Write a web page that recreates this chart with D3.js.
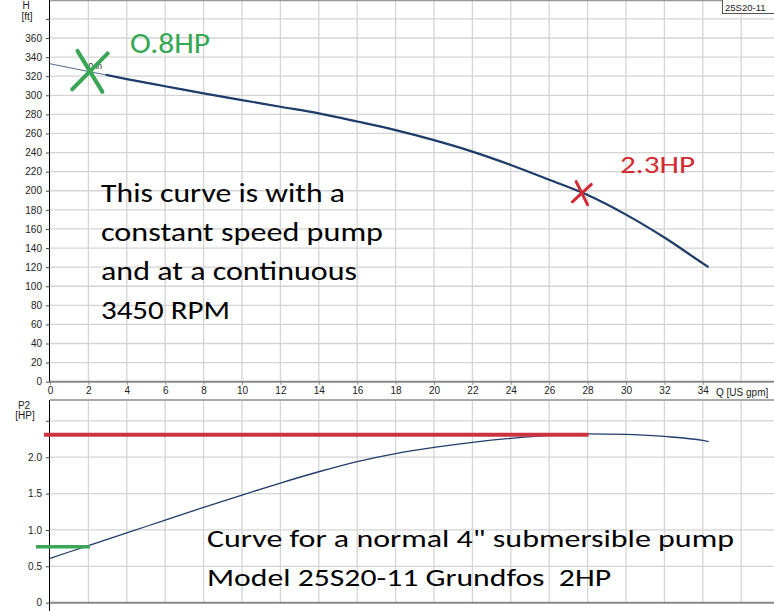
<!DOCTYPE html>
<html><head><meta charset="utf-8">
<script src="https://cdn.jsdelivr.net/npm/d3@7"></script>
<style>body{margin:0;background:#fff}svg{display:block}</style>
</head><body>
<script>
// ---- data ----
const flowQ  = [0,2,4,6,8,10,12,14,16,18,20,22,24,26,28,30,32,34,34.3];
const headH  = [333,325,317,309.5,302,295,288,281,272.5,263.5,253,241,227,211.5,195.5,175,151,124,120];
const powerQ = [0,2,4,6,8,10,12,14,16,18,20,22,24,26,28,30,32,34,34.3];
const powerP2 = [0.61,0.785,0.96,1.135,1.31,1.48,1.645,1.80,1.94,2.05,2.135,2.205,2.26,2.30,2.32,2.315,2.285,2.23,2.215];
const qTickValues = [0,2,4,6,8,10,12,14,16,18,20,22,24,26,28,30,32,34];
const qTickLabels = ["0","2","4","6","8","10","12","14","16","18","20","22","24","26","28","30","32","34"];
const hTickValues = [0,20,40,60,80,100,120,140,160,180,200,220,240,260,280,300,320,340,360];
const hTickLabels = ["0","20","40","60","80","100","120","140","160","180","200","220","240","260","280","300","320","340","360"];
const p2TickValues = [0,0.5,1.0,1.5,2.0];
const p2TickLabels = ["0","0.5","1.0","1.5","2.0"];
const lowPoint  = {q:2.08, h:325, p2:0.77, label:"O.8HP"};
const highPoint = {q:27.7, h:197.5, p2:2.31, label:"2.3HP"};
const notesTop = ["This curve is with a","constant speed pump","and at a continuous","3450 RPM"];
const notesBottom = ["Curve for a normal 4\" submersible pump","Model 25S20-11 Grundfos  2HP"];
const modelName = "25S20-11";

// ---- layout ----
const W = 774, H = 611;
const svg = d3.select("body").append("svg").attr("width", W).attr("height", H);
const x = d3.scaleLinear().domain([0, 36]).range([50, 741.2]);
const yH = d3.scaleLinear().domain([0, 360]).range([381.7, 38]);
const yP = d3.scaleLinear().domain([0, 2]).range([602.7, 457.2]);
const gridColor = "#d4d4d4";
const axisFont = "'Liberation Sans', Arial, sans-serif";
const noteFont = "Carlito, Lato, 'Open Sans', sans-serif";

// grid top
const gTop = svg.append("g");
gTop.selectAll("line.v").data(d3.range(2, 38, 2)).join("line")
  .attr("x1", d => x(d)).attr("x2", d => x(d)).attr("y1", 0).attr("y2", yH(0))
  .attr("stroke", gridColor).attr("stroke-width", 1.3);
gTop.selectAll("line.h").data(d3.range(20, 400, 20)).join("line")
  .attr("x1", x(0)).attr("x2", W).attr("y1", d => yH(d)).attr("y2", d => yH(d))
  .attr("stroke", gridColor).attr("stroke-width", 1.3);
// grid bottom
const gBot = svg.append("g");
gBot.selectAll("line.v").data(d3.range(2, 38, 2)).join("line")
  .attr("x1", d => x(d)).attr("x2", d => x(d)).attr("y1", 400).attr("y2", yP(0))
  .attr("stroke", gridColor).attr("stroke-width", 1.3);
gBot.selectAll("line.h").data([0.5,1,1.5,2,2.5]).join("line")
  .attr("x1", x(0)).attr("x2", W).attr("y1", d => yP(d)).attr("y2", d => yP(d))
  .attr("stroke", gridColor).attr("stroke-width", 1.3);

// frames
svg.append("line").attr("x1", x(0)).attr("x2", W).attr("y1", 0.5).attr("y2", 0.5).attr("stroke", "#999").attr("stroke-width", 1.5);
svg.append("line").attr("x1", x(0)).attr("x2", W).attr("y1", 400).attr("y2", 400).attr("stroke", "#aaa").attr("stroke-width", 2);
svg.append("line").attr("x1", x(0)).attr("x2", W).attr("y1", yH(0)).attr("y2", yH(0)).attr("stroke", "#888").attr("stroke-width", 2);
svg.append("line").attr("x1", x(0)).attr("x2", W).attr("y1", yP(0)).attr("y2", yP(0)).attr("stroke", "#888").attr("stroke-width", 2);

// axes
const axH = d3.axisLeft(yH).tickValues(hTickValues.concat([380])).tickSize(4).tickPadding(4)
  .tickFormat((d) => { const i = hTickValues.indexOf(d); return i >= 0 ? hTickLabels[i] : ""; });
const gAH = svg.append("g").attr("transform", `translate(${x(0)},0)`).call(axH);
gAH.select(".domain").attr("d", `M-0.5,0V${yH(0)}`).attr("stroke", "#000");
const axP = d3.axisLeft(yP).tickValues(p2TickValues.concat([2.5])).tickSize(4).tickPadding(4)
  .tickFormat((d) => { const i = p2TickValues.indexOf(d); return i >= 0 ? p2TickLabels[i] : ""; });
const gAP = svg.append("g").attr("transform", `translate(${x(0)},0)`).call(axP);
gAP.select(".domain").attr("d", `M-0.5,400V${H}`).attr("stroke", "#000");
const axQ = d3.axisBottom(x).tickValues(qTickValues).tickSize(3).tickPadding(2)
  .tickFormat((d, i) => qTickLabels[i]);
const gAQ = svg.append("g").attr("transform", `translate(0,${yH(0)})`).call(axQ);
gAQ.select(".domain").remove();
[gAH, gAP, gAQ].forEach(g => {
  g.selectAll("text").attr("font-family", axisFont).attr("font-size", 10).attr("fill", "#222");
  g.selectAll(".tick line").attr("stroke", "#444");
});
gAQ.selectAll(".tick line").attr("stroke", "#888");

const lbl = (t, xx, yy, anchor = "middle") => svg.append("text").text(t)
  .attr("x", xx).attr("y", yy).attr("text-anchor", anchor)
  .attr("font-family", axisFont).attr("font-size", 10).attr("fill", "#222");
lbl("H", 26, 9);
lbl("[ft]", 27, 20);
lbl("P2", 24, 408.5);
lbl("[HP]", 25, 419);
lbl("Q [US gpm]", 716, 395.5, "start");

// model box
svg.append("rect").attr("x", 722.5).attr("y", -1).attr("width", 60).attr("height", 14.5)
  .attr("fill", "#fff").attr("stroke", "#555").attr("stroke-width", 1);
lbl(modelName, 725, 10.5, "start").attr("font-size", 9.5);

// curves
const headData = flowQ.map((q, i) => ({q, v: headH[i]}));
const powerData = powerQ.map((q, i) => ({q, v: powerP2[i]}));
const lineH = d3.line().x(d => x(d.q)).y(d => yH(d.v)).curve(d3.curveMonotoneX);
const lineP = d3.line().x(d => x(d.q)).y(d => yP(d.v)).curve(d3.curveMonotoneX);
svg.append("clipPath").attr("id", "thick").append("rect")
  .attr("x", x(2.9)).attr("y", 0).attr("width", W).attr("height", 400);
svg.append("path").attr("d", lineH(headData)).attr("fill", "none")
  .attr("stroke", "#5a6f93").attr("stroke-width", 1.1);
svg.append("path").attr("d", lineH(headData)).attr("fill", "none")
  .attr("stroke", "#1f3d6b").attr("stroke-width", 2.2).attr("clip-path", "url(#thick)");
svg.append("path").attr("d", lineP(powerData)).attr("fill", "none")
  .attr("stroke", "#1f3d6b").attr("stroke-width", 1.3);

// "0 in" marker label
svg.append("text").text("0 in").attr("x", x(2.0)).attr("y", 68.5)
  .attr("font-family", axisFont).attr("font-size", 8.5).attr("fill", "#222");

// power lines
const green = "#3aa655", red = "#cc3340";
svg.append("line").attr("x1", x(-0.73)).attr("x2", x(lowPoint.q))
  .attr("y1", yP(lowPoint.p2)).attr("y2", yP(lowPoint.p2)).attr("stroke", green).attr("stroke-width", 3.5);
svg.append("line").attr("x1", x(-0.31)).attr("x2", x(28.05))
  .attr("y1", yP(highPoint.p2)).attr("y2", yP(highPoint.p2)).attr("stroke", red).attr("stroke-width", 4);

// X markers
function drawX(cx, cy, a, b, color, sw) {
  svg.append("line").attr("x1", cx + a[0]).attr("y1", cy + a[1]).attr("x2", cx - a[0]).attr("y2", cy - a[1])
    .attr("stroke", color).attr("stroke-width", sw).attr("stroke-linecap", "round");
  svg.append("line").attr("x1", cx + b[0]).attr("y1", cy + b[1]).attr("x2", cx - b[0]).attr("y2", cy - b[1])
    .attr("stroke", color).attr("stroke-width", sw).attr("stroke-linecap", "round");
}
drawX(x(lowPoint.q), yH(lowPoint.h), [-12.5, -20.5], [-17.8, 18], green, 4);
drawX(x(highPoint.q), yH(highPoint.h), [-5.7, -11.5], [-9.5, 8.7], "#d22a34", 3);

// annotation labels
svg.append("text").text(lowPoint.label).attr("x", 130).attr("y", 53)
  .attr("font-family", noteFont).attr("font-size", 28).attr("fill", "#35a853")
  .attr("textLength", 80).attr("lengthAdjust", "spacingAndGlyphs");
svg.append("text").text(highPoint.label).attr("x", 620).attr("y", 173)
  .attr("font-family", noteFont).attr("font-size", 25).attr("fill", "#d42a32")
  .attr("textLength", 75).attr("lengthAdjust", "spacingAndGlyphs");

const topWidths = [244, 282, 256, 129];
notesTop.forEach((t, i) => {
  svg.append("text").text(t).attr("x", 101).attr("y", 202.3 + i * 39)
    .attr("font-family", noteFont).attr("font-size", 27).attr("fill", "#000")
    .attr("textLength", topWidths[i]).attr("lengthAdjust", "spacingAndGlyphs");
});
const botWidths = [527, 404];
notesBottom.forEach((t, i) => {
  svg.append("text").text(t).attr("x", 207).attr("y", 547 + i * 38.5)
    .style("white-space", "pre")
    .attr("font-family", noteFont).attr("font-size", 25.5).attr("fill", "#000")
    .attr("textLength", botWidths[i]).attr("lengthAdjust", "spacingAndGlyphs");
});
</script>
</body></html>
